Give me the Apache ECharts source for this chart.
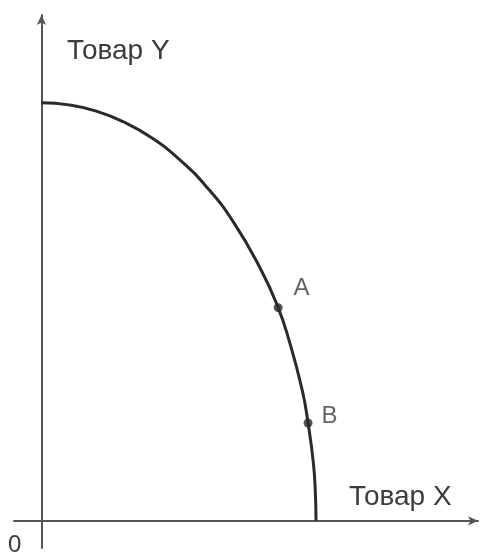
<!DOCTYPE html>
<html>
<head>
<meta charset="utf-8">
<script src="https://cdn.jsdelivr.net/npm/echarts@6/dist/echarts.min.js"></script>
<style>
  html, body { margin: 0; padding: 0; background: #fff; }
  #chart { width: 480px; height: 556px; }
</style>
</head>
<body>
<div id="chart"></div>
<script>
// кривая производственных возможностей
var goodX = [0, 1, 2, 3, 4, 5, 6, 7, 8, 8.62, 9, 9.5, 9.71, 9.9, 9.97, 10];
var goodY = [10, 9.95, 9.8, 9.54, 9.17, 8.66, 8.0, 7.14, 6.0, 5.1, 4.36, 3.12, 2.34, 1.41, 0.77, 0];
var pointNames = ["A", "B"];
var pointX = [8.62, 9.71];
var pointY = [5.1, 2.34];

var myChart = echarts.init(document.getElementById("chart"));

var textColor = "#3c3c3c";
var lineColor = "#2a2a2a";

var option = {
  animation: false,
  grid: { left: 14, right: 2, top: 15, bottom: 8 },
  xAxis: {
    type: "value",
    min: -1,
    max: 15.9,
    axisLine: {
      onZero: true,
      symbol: ["none", "arrow"],
      symbolSize: [7, 10],
      lineStyle: { color: "#555", width: 2 }
    },
    axisTick: { show: false },
    axisLabel: { show: false },
    splitLine: { show: false }
  },
  yAxis: {
    type: "value",
    min: -0.65,
    max: 12.1,
    axisLine: {
      onZero: true,
      symbol: ["none", "arrow"],
      symbolSize: [7, 10],
      lineStyle: { color: "#555", width: 2 }
    },
    axisTick: { show: false },
    axisLabel: { show: false },
    splitLine: { show: false }
  },
  graphic: [
    {
      type: "text", left: 67, top: 37,
      style: { text: "Товар Y", fill: textColor, font: "28px 'Liberation Sans', Arial" }
    },
    {
      type: "text", left: 349, top: 483,
      style: { text: "Товар X", fill: textColor, font: "28px 'Liberation Sans', Arial" }
    },
    {
      type: "text", left: 8, top: 533,
      style: { text: "0", fill: textColor, font: "24px 'Liberation Sans', Arial" }
    }
  ],
  series: [
    {
      type: "line",
      smooth: true,
      symbol: "none",
      lineStyle: { color: lineColor, width: 3 },
      data: goodX.map(function (x, i) { return [x, goodY[i]]; })
    },
    {
      type: "scatter",
      symbolSize: 9,
      itemStyle: { color: lineColor },
      label: {
        show: true,
        formatter: function (p) { return p.name; },
        color: textColor,
        fontSize: 24,
        fontFamily: "Liberation Sans"
      },
      data: [
        { name: pointNames[0], value: [pointX[0], pointY[0]], label: { position: "right", offset: [6, -19] } },
        { name: pointNames[1], value: [pointX[1], pointY[1]], label: { position: "right", offset: [4, -7] } }
      ]
    }
  ]
};

myChart.setOption(option);

window.addEventListener("resize", function () {
  myChart.resize();
});
</script>
</body>
</html>
